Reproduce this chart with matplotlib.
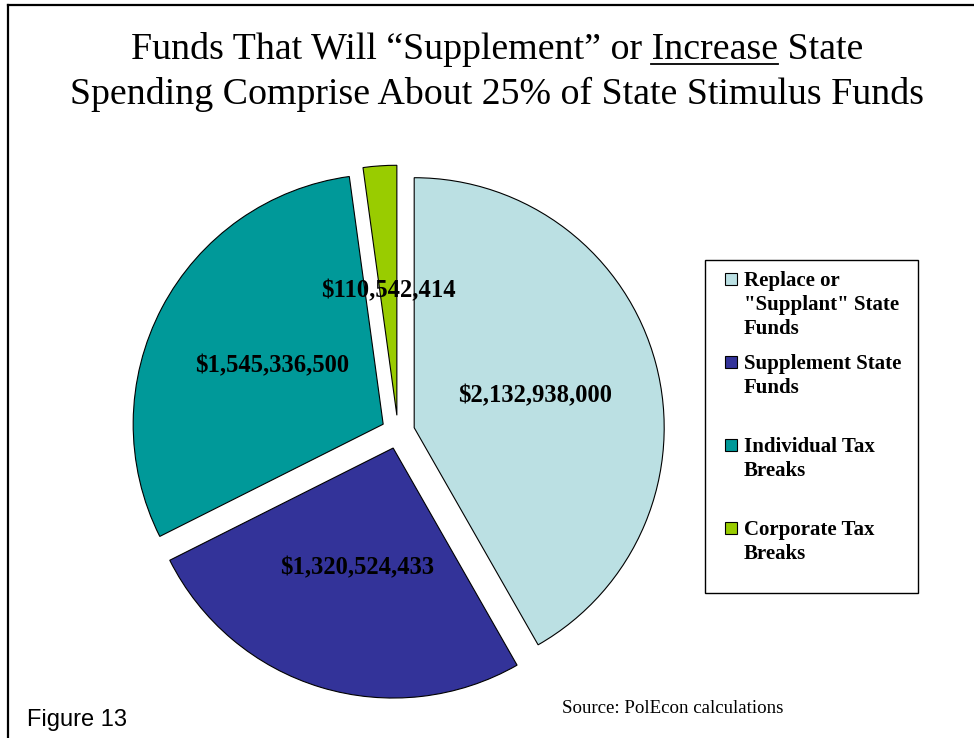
import matplotlib
matplotlib.use('Agg')
import matplotlib.pyplot as plt
from matplotlib.lines import Line2D
from matplotlib.patches import Rectangle

W, H = 974, 738

categories = ['Replace or\n"Supplant" State\nFunds',
              'Supplement State\nFunds',
              'Individual Tax\nBreaks',
              'Corporate Tax\nBreaks']
values = [2132938000, 1320524433, 1545336500, 110542414]
colors = ['#BBE0E3', '#333399', '#009999', '#99CC00']
value_labels = ['${:,}'.format(v) for v in values]

title_1 = ('Funds That Will \u201cSupplement\u201d or ', 'Increase', ' State')
title_2 = 'Spending Comprise About 25% of State Stimulus Funds'

serif = 'Liberation Serif'
sans = 'Liberation Sans'


def fx(x):
    return x / W


def fy(y):
    return 1 - y / H


fig = plt.figure(figsize=(W / 100, H / 100), dpi=100)
fig.patch.set_facecolor('white')

# page frame (left and top rule)
fig.add_artist(Line2D([fx(8), fx(8)], [fy(5), 0], color='black', lw=1.6))
fig.add_artist(Line2D([fx(8), 1], [fy(5), fy(5)], color='black', lw=1.6))

# pie, 250 px radius centred at (398, 432)
ax = fig.add_axes([fx(98), fy(732), 600 / W, 600 / H])
lab_iter = iter(value_labels)
wedges, texts, autotexts = ax.pie(
    values, colors=colors, startangle=90, counterclock=False,
    explode=[0.067] * len(values), pctdistance=0.5,
    autopct=lambda p: next(lab_iter),
    wedgeprops=dict(edgecolor='black', linewidth=0.8),
    textprops=dict(family=serif, fontweight='bold', fontsize=17.7, color='black'))
ax.set_xlim(-1.2, 1.2)
ax.set_ylim(-1.2, 1.2)
ax.set_aspect('equal')
ax.axis('off')

# title, first line built from pieces so one word can be underlined
tsize = 27.3
cx = fx(497)
t_full = fig.text(cx, fy(59), ''.join(title_1), ha='center', va='baseline',
                  family=serif, fontsize=tsize)
fig.text(cx, fy(104), title_2, ha='center', va='baseline',
         family=serif, fontsize=tsize)

fig.canvas.draw()
r = fig.canvas.get_renderer()
full_bb = t_full.get_window_extent(r)
probe = fig.text(0, 0, title_1[0] + title_1[1], family=serif, fontsize=tsize)
word = fig.text(0, 0, title_1[1], family=serif, fontsize=tsize)
a = probe.get_window_extent(r).width
b = word.get_window_extent(r).width
probe.remove()
word.remove()
x1 = full_bb.x0 + a
x0 = x1 - b
fig.add_artist(Line2D([x0 / W, x1 / W], [fy(64), fy(64)], color='black', lw=1.3))

# legend box
fig.add_artist(Rectangle((fx(705), fy(593)), (918 - 705) / W, (593 - 260) / H,
                         transform=fig.transFigure, facecolor='white',
                         edgecolor='black', lw=1.0))
for i, (name, col) in enumerate(zip(categories, colors)):
    top = 273 + 83 * i
    fig.add_artist(Rectangle((fx(725), fy(top + 12)), 12 / W, 12 / H,
                             transform=fig.transFigure, facecolor=col,
                             edgecolor='black', lw=0.8))
    fig.text(fx(744), fy(top - 2), name, ha='left', va='top', family=serif,
             fontweight='bold', fontsize=15, linespacing=1.28)

fig.text(fx(27), fy(726), 'Figure 13', family=sans, fontsize=17, va='baseline')
fig.text(fx(562), fy(713), 'Source: PolEcon calculations', family=serif,
         fontsize=13.6, va='baseline')

fig.savefig('out.png', dpi=100, facecolor='white')
